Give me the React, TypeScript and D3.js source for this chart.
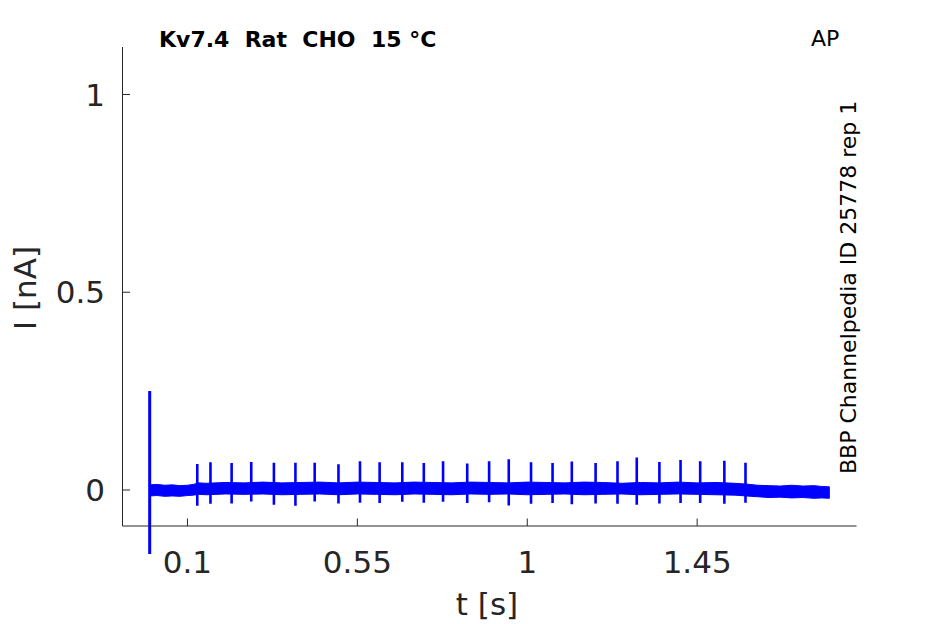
import React from "react";
import * as d3 from "d3";

// Baseline noise envelope (time in s, current in nA)
const baseT = [0, 0.02, 0.04, 0.06, 0.08, 0.1, 0.115, 0.13, 0.15, 0.2, 0.25, 0.3, 0.35, 0.4, 0.45, 0.5, 0.55, 0.6, 0.65, 0.7, 0.75, 0.8, 0.85, 0.9, 0.95, 1.0, 1.05, 1.1, 1.15, 1.2, 1.25, 1.3, 1.35, 1.4, 1.45, 1.5, 1.55, 1.58, 1.61, 1.64, 1.67, 1.7, 1.73, 1.76, 1.78, 1.8];
const baseHi = [0.013, 0.014, 0.012, 0.013, 0.011, 0.012, 0.014, 0.018, 0.017, 0.019, 0.018, 0.02, 0.018, 0.019, 0.02, 0.018, 0.02, 0.019, 0.018, 0.02, 0.019, 0.018, 0.02, 0.019, 0.018, 0.02, 0.019, 0.018, 0.02, 0.019, 0.017, 0.019, 0.018, 0.02, 0.018, 0.019, 0.017, 0.015, 0.012, 0.011, 0.01, 0.012, 0.01, 0.011, 0.009, 0.008];
const baseLo = [-0.015, -0.014, -0.016, -0.015, -0.016, -0.014, -0.013, -0.011, -0.012, -0.01, -0.011, -0.01, -0.012, -0.011, -0.01, -0.012, -0.01, -0.011, -0.012, -0.01, -0.011, -0.012, -0.01, -0.011, -0.01, -0.012, -0.011, -0.01, -0.012, -0.011, -0.01, -0.012, -0.011, -0.01, -0.011, -0.012, -0.013, -0.015, -0.017, -0.019, -0.018, -0.02, -0.019, -0.021, -0.02, -0.021];

// Stimulus artefact at start
const artT = 0.0;
const artTop = 0.25;
const artBot = -0.162;

// Action-potential-clamp spikes
const spikeT = [0.126, 0.161, 0.217, 0.269, 0.329, 0.386, 0.437, 0.5, 0.557, 0.609, 0.669, 0.726, 0.777, 0.841, 0.899, 0.951, 1.01, 1.067, 1.118, 1.181, 1.239, 1.29, 1.35, 1.406, 1.458, 1.522, 1.578];
const spikeTop = [0.066, 0.07, 0.068, 0.071, 0.069, 0.069, 0.069, 0.065, 0.073, 0.07, 0.07, 0.068, 0.073, 0.067, 0.073, 0.078, 0.07, 0.068, 0.072, 0.068, 0.073, 0.082, 0.071, 0.076, 0.073, 0.074, 0.069];
const spikeBot = [-0.04, -0.035, -0.034, -0.029, -0.037, -0.04, -0.029, -0.034, -0.032, -0.033, -0.03, -0.032, -0.03, -0.033, -0.031, -0.039, -0.035, -0.033, -0.036, -0.034, -0.035, -0.037, -0.034, -0.033, -0.033, -0.035, -0.032];

const xTicks = [0.1, 0.55, 1, 1.45];
const xTickLabels = ["0.1", "0.55", "1", "1.45"];
const yTicks = [0, 0.5, 1];
const yTickLabels = ["0", "0.5", "1"];

const title = "Kv7.4  Rat  CHO  15 °C";
const corner = "AP";
const sideNote = "BBP Channelpedia ID 25778 rep 1";
const xLabel = "t [s]";
const yLabel = "I [nA]";

export default function App() {
  const W = 945, H = 624;
  const left = 122.5, right = 856.5, top = 47, bottom = 526;
  const x = d3.scaleLinear().domain([-0.072, 1.872]).range([left, right]);
  const y = d3.scaleLinear().domain([-0.091, 1.12]).range([bottom, top]);
  const axisColor = "#262626";
  const font = "'DejaVu Sans', sans-serif";

  const band = baseT.map((t, i) => ({ t, hi: baseHi[i], lo: baseLo[i] }));
  const area = d3.area<any>().x((d) => x(d.t)).y0((d) => y(d.lo)).y1((d) => y(d.hi));
  const mid = d3.scaleLinear().domain(baseT).range(baseT.map((_, i) => (baseHi[i] + baseLo[i]) / 2));
  const line = d3.line<[number, number]>().x((d) => x(d[0])).y((d) => y(d[1]));

  return (
    <svg width={W} height={H} style={{ position: "absolute", left: 0, top: 0, background: "#fff" }}>
      <rect x={0} y={0} width={W} height={H} fill="#fff" />
      {/* trace */}
      <path d={area(band) || ""} fill="#0000ff" stroke="#0000ff" strokeWidth={1} strokeLinejoin="round" />
      <path d={line([[artT, mid(artT)], [artT, artTop], [artT, artBot]]) || ""} fill="none" stroke="#0000ff" strokeWidth={3} />
      {spikeT.map((t, i) => (
        <path key={i} d={line([[t, mid(t)], [t, spikeTop[i]], [t, spikeBot[i]], [t, mid(t)]]) || ""} fill="none" stroke="#0000ff" strokeWidth={2.6} />
      ))}
      {/* axes */}
      <line x1={left} x2={left} y1={top} y2={bottom} stroke={axisColor} strokeWidth={1} />
      <line x1={left} x2={right} y1={bottom} y2={bottom} stroke={axisColor} strokeWidth={1} />
      {yTicks.map((v, i) => (
        <g key={i}>
          <line x1={left} x2={left + 7.5} y1={y(v)} y2={y(v)} stroke={axisColor} />
          <text x={105} y={y(v)} dy="0.36em" textAnchor="end" fontSize={31} fontFamily={font} fill={axisColor}>{yTickLabels[i]}</text>
        </g>
      ))}
      {xTicks.map((v, i) => (
        <g key={i}>
          <line x1={x(v)} x2={x(v)} y1={bottom} y2={bottom - 7.5} stroke={axisColor} />
          <text x={x(v)} y={572.5} textAnchor="middle" fontSize={31} fontFamily={font} fill={axisColor}>{xTickLabels[i]}</text>
        </g>
      ))}
      <text x={487} y={615} textAnchor="middle" fontSize={31} fontFamily={font} fill={axisColor}>{xLabel}</text>
      <text transform={`translate(36,288) rotate(-90)`} textAnchor="middle" fontSize={31} fontFamily={font} fill={axisColor}>{yLabel}</text>
      <text x={159} y={47} fontSize={22} fontWeight="bold" fontFamily={font} fill="#000" style={{ whiteSpace: "pre" }}>{title}</text>
      <text x={811} y={46} fontSize={22} fontFamily={font} fill="#000">{corner}</text>
      <text transform={`translate(856,474) rotate(-90)`} fontSize={22} fontFamily={font} fill="#000">{sideNote}</text>
    </svg>
  );
}
